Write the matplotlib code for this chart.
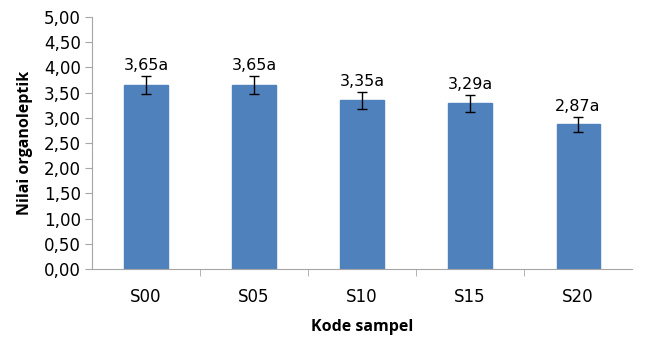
import matplotlib
matplotlib.use('Agg')
import matplotlib.pyplot as plt
import numpy as np

# data
kode = ['S00', 'S05', 'S10', 'S15', 'S20']
nilai = [3.65, 3.65, 3.35, 3.29, 2.87]
galat = [0.18, 0.18, 0.17, 0.17, 0.15]
notasi = ['a', 'a', 'a', 'a', 'a']

plt.rcParams['font.family'] = ['Open Sans', 'DejaVu Sans']
num_font = ['DejaVu Sans']

fig = plt.figure(figsize=(6.64, 3.37), dpi=100)
ax = fig.add_axes([0.1386, 0.2018, 0.952 - 0.1386, 0.9496 - 0.2018])

x = np.arange(len(kode))
ax.bar(x, nilai, width=0.4, color='#4f81bd', edgecolor='#4f81bd', zorder=2)
ax.errorbar(x, nilai, yerr=galat, fmt='none', ecolor='black', elinewidth=1,
            capsize=3.5, capthick=1, zorder=3)

for xi, v, e, n in zip(x, nilai, galat, notasi):
    ax.text(xi, v + e + 0.06, f'{v:.2f}'.replace('.', ',') + n,
            ha='center', va='bottom', fontsize=11.5, family=num_font)

ax.set_xlim(-0.5, len(kode) - 0.5)
ax.set_ylim(0, 5)
yt = np.arange(0, 5.01, 0.5)
ax.set_yticks(yt)
ax.set_yticklabels([f'{t:.2f}'.replace('.', ',') for t in yt], fontsize=12, family=num_font)
ax.set_xticks(x)
ax.set_xticklabels(kode, fontsize=12, family=num_font)
ax.set_xticks(np.arange(0.5, len(kode) - 0.5, 1), minor=True)
ax.tick_params(axis='x', which='major', length=0, pad=14)
ax.tick_params(axis='x', which='minor', length=5, color='#a6a6a6', direction='out')
ax.tick_params(axis='y', length=5, color='#a6a6a6', direction='out', pad=3)

for s in ['top', 'right']:
    ax.spines[s].set_visible(False)
for s in ['left', 'bottom']:
    ax.spines[s].set_color('#a6a6a6')

ax.set_xlabel('Kode sampel', fontsize=11.5, fontweight='bold', labelpad=9)
ax.set_ylabel('Nilai organoleptik', fontsize=11.5, fontweight='bold', labelpad=8)

fig.savefig('out.png', dpi=100)
